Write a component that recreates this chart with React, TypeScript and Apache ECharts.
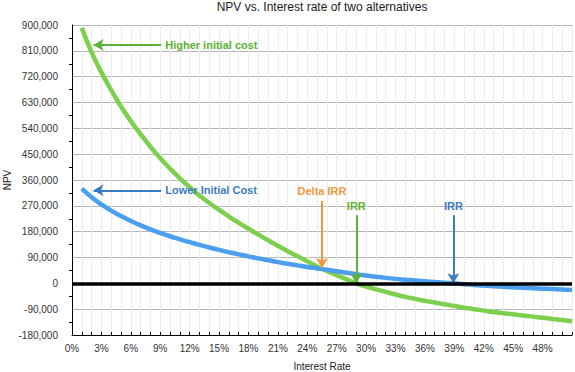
import React, { useEffect, useRef } from 'react';
import * as echarts from 'echarts';

// Interest rate (%)
const rates = [
  1, 2, 3, 4, 5, 6, 7, 8, 9, 10, 11, 12, 13, 14, 15, 16, 17, 18, 19, 20, 21, 22, 23, 24, 25,
  26, 27, 28, 29, 30, 31, 32, 33, 34, 35, 36, 37, 38, 39, 40, 41, 42, 43, 44, 45, 46, 47, 48, 49, 50, 51,
];

// NPV of the alternative with the higher initial cost
const higherInitialCost = [
  890000, 805000, 735000, 673000, 616000, 565000, 519000, 476000, 436000, 400000,
  366000, 335000, 306000, 280000, 256000, 233000, 211000, 190000, 170000, 150000,
  131000, 112000, 94000, 77000, 59000, 43000, 28000, 14000, 0, -11000,
  -21000, -30000, -39000, -47000, -54000, -61000, -67000, -73000, -79000, -85000,
  -90000, -95000, -100000, -104000, -108000, -112000, -116000, -120000, -124000, -128000, -132000,
];

// NPV of the alternative with the lower initial cost
const lowerInitialCost = [
  330000, 300000, 275000, 253500, 234500, 217500, 202000, 188000, 175500, 164000,
  153500, 143500, 134000, 125000, 116500, 108500, 101000, 94000, 87000, 80500,
  74000, 68000, 62500, 57000, 52000, 47000, 42000, 37000, 32000, 27500,
  23000, 19000, 15500, 12500, 9500, 7000, 4500, 2000, 0, -3000,
  -5500, -8000, -10000, -12000, -14000, -15500, -17000, -18500, -20000, -21500, -23000,
];

const FONT = '"Liberation Sans", Arial, Helvetica, sans-serif';

export default function App() {
  const ref = useRef<HTMLDivElement>(null);

  useEffect(() => {
    document.body.style.margin = '0';
    const chart = echarts.init(ref.current as HTMLDivElement, null, { renderer: 'svg' });

    const greenLine = '#7dcf4e';
    const blueLine = '#4b9ef0';
    const greenText = '#5bb234';
    const blueText = '#3a7cc2';
    const orange = '#f3983a';

    const arrow = (
      tip: [number, number],
      tail: [number, number],
      text: string,
      color: string
    ) => [
      {
        coord: tip,
        lineStyle: { color, width: 2, type: 'solid' },
        label: {
          show: true,
          position: 'end',
          formatter: text,
          color,
          fontWeight: 'bold',
          fontSize: 11,
          fontFamily: FONT,
          distance: 4,
        },
      },
      { coord: tail },
    ];

    chart.setOption({
      animation: false,
      backgroundColor: '#ffffff',
      title: {
        text: 'NPV vs. Interest rate of two alternatives',
        left: 322,
        top: 1,
        padding: 0,
        textAlign: 'center',
        textStyle: { fontSize: 12, fontWeight: 'normal', color: '#222', fontFamily: FONT },
      },
      grid: {
        left: 72,
        right: 3,
        top: 25,
        bottom: 37,
        containLabel: false,
        outerBoundsMode: 'none',
      },
      xAxis: {
        type: 'value',
        min: 0,
        max: 51,
        interval: 3,
        name: 'Interest Rate',
        nameLocation: 'middle',
        nameGap: 26,
        nameMoveOverlap: false,
        nameTextStyle: { fontSize: 10, color: '#222', fontFamily: FONT },
        axisLine: { onZero: false, lineStyle: { color: '#000', width: 1 } },
        axisTick: { show: true, inside: true, length: 3, lineStyle: { color: '#000' } },
        minorTick: { show: true, splitNumber: 3, length: 3, lineStyle: { color: '#000' } },
        axisLabel: {
          fontSize: 10,
          color: '#333',
          fontFamily: FONT,
          margin: 8,
          formatter: (v: number) => (v >= 51 ? '' : v + '%'),
        },
        splitLine: { show: true, lineStyle: { color: '#ececec', width: 1 } },
        minorSplitLine: { show: true, lineStyle: { color: '#ececec', width: 1 } },
      },
      yAxis: {
        type: 'value',
        min: -180000,
        max: 900000,
        interval: 90000,
        name: 'NPV',
        nameLocation: 'middle',
        nameGap: 60,
        nameRotate: 90,
        nameMoveOverlap: false,
        nameTextStyle: { fontSize: 10, color: '#222', fontFamily: FONT },
        axisLine: { show: true, lineStyle: { color: '#000', width: 1 } },
        axisTick: { show: false },
        minorTick: { show: true, splitNumber: 2, length: 3, lineStyle: { color: '#000' } },
        axisLabel: {
          fontSize: 10,
          color: '#333',
          fontFamily: FONT,
          margin: 14,
          formatter: (v: number) => v.toLocaleString('en-US'),
        },
        splitLine: { show: true, lineStyle: { color: '#b5b5b5', width: 1 } },
      },
      series: [
        {
          name: 'Higher initial cost',
          type: 'line',
          data: rates.map((r, i) => [r, higherInitialCost[i]]),
          showSymbol: false,
          smooth: true,
          lineStyle: { color: greenLine, width: 4.5 },
          itemStyle: { color: greenLine },
          z: 2,
          markLine: {
            silent: true,
            symbol: ['arrow', 'none'],
            symbolSize: [9, 10],
            animation: false,
            data: [
              arrow([2.2, 830000], [9.1, 830000], 'Higher initial cost', greenText),
              arrow([2.2, 324000], [9.1, 324000], 'Lower Initial Cost', blueText),
              arrow([25.5, 53000], [25.5, 287000], 'Delta IRR', orange),
              arrow([29, 0], [29, 237000], 'IRR', greenText),
              arrow([38.9, 0], [38.9, 237000], 'IRR', blueText),
            ],
          },
        },
        {
          name: 'Lower Initial Cost',
          type: 'line',
          data: rates.map((r, i) => [r, lowerInitialCost[i]]),
          showSymbol: false,
          smooth: true,
          lineStyle: { color: blueLine, width: 4.5 },
          itemStyle: { color: blueLine },
          z: 3,
          markLine: {
            silent: true,
            symbol: ['none', 'none'],
            animation: false,
            label: { show: false },
            lineStyle: { color: '#000', width: 3.5, type: 'solid' },
            data: [{ yAxis: 0 }],
          },
        },
      ],
    });

    return () => chart.dispose();
  }, []);

  return <div ref={ref} style={{ width: 575, height: 372 }} />;
}
